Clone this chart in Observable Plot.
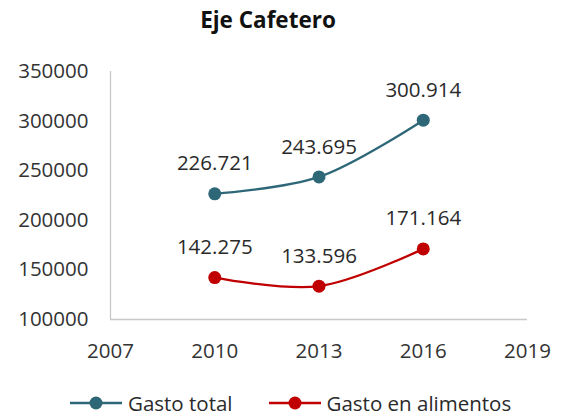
<!DOCTYPE html>
<html>
<head>
<meta charset="utf-8">
<script src="https://cdn.jsdelivr.net/npm/d3@7"></script>
<script src="https://cdn.jsdelivr.net/npm/@observablehq/plot@0.6"></script>
<style>
  html, body { margin: 0; padding: 0; background: #fff; }
  body { width: 564px; height: 417px; position: relative; overflow: hidden; font-family: "Open Sans", sans-serif; }
  #title { position: absolute; left: 0; top: 0; width: 536px; height: 40px; line-height: 40px; text-align: center; font-weight: bold; font-size: 22.5px; color: #111; }
  #chart { position: absolute; left: 0; top: 50px; }
  #legend { position: absolute; left: 70px; top: 391px; height: 24px; display: flex; align-items: center; font-size: 20.5px; color: #2a2a2a; }
  .item { display: flex; align-items: center; margin-right: 36px; }
  .item svg { margin-right: 6px; }
</style>
</head>
<body>
<div id="title">Eje Cafetero</div>
<div id="chart"></div>
<div id="legend"></div>
<script>
const years = [2010, 2013, 2016];
const gastoTotal = [226721, 243695, 300914];
const gastoAlimentos = [142275, 133596, 171164];
const seriesNames = ["Gasto total", "Gasto en alimentos"];
const seriesColors = ["#2E6878", "#C00000"];
const xTicks = [2007, 2010, 2013, 2016, 2019];
const yTicks = [100000, 150000, 200000, 250000, 300000, 350000];

const data = [];
[gastoTotal, gastoAlimentos].forEach((vals, s) => {
  vals.forEach((v, i) => data.push({ serie: seriesNames[s], year: years[i], value: v }));
});

const loc = d3.formatLocale({ decimal: ",", thousands: ".", grouping: [3], currency: ["$", ""] });
const fmt = loc.format(",d");

const color = { domain: seriesNames, range: seriesColors };

const chart = Plot.plot({
  width: 564,
  height: 325,
  marginLeft: 110,
  marginRight: 37,
  marginTop: 21,
  marginBottom: 56,
  style: { fontFamily: "Open Sans, sans-serif", fontSize: "20.5px", color: "#333", background: "transparent" },
  x: { domain: [2007, 2019], label: null },
  y: { domain: [100000, 350000], label: null },
  color,
  marks: [
    Plot.axisX({ ticks: xTicks, tickFormat: d => String(d), tickSize: 0, tickPadding: 24, fill: "#333", label: null }),
    Plot.axisY({ ticks: yTicks, tickFormat: d => String(d), tickSize: 0, tickPadding: 22, fill: "#333", label: null }),
    Plot.ruleX([2007], { stroke: "#c8c8c8", strokeWidth: 1.3 }),
    Plot.ruleY([100000], { stroke: "#c8c8c8", strokeWidth: 1.3 }),
    Plot.line(data, { x: "year", y: "value", z: "serie", stroke: "serie", strokeWidth: 2.3, curve: "catmull-rom" }),
    Plot.dot(data, { x: "year", y: "value", fill: "serie", r: 6.5 }),
    Plot.text(data, { x: "year", y: "value", text: d => fmt(d.value), dy: -30, fill: "#2a2a2a", fontSize: 20.5 })
  ]
});
document.getElementById("chart").appendChild(chart);

const legend = d3.select("#legend");
seriesNames.forEach((name, i) => {
  const item = legend.append("div").attr("class", "item");
  const svg = item.append("svg").attr("width", 52).attr("height", 14);
  svg.append("line").attr("x1", 0).attr("x2", 52).attr("y1", 7).attr("y2", 7)
    .attr("stroke", seriesColors[i]).attr("stroke-width", 2.3);
  svg.append("circle").attr("cx", 26).attr("cy", 7).attr("r", 6.5).attr("fill", seriesColors[i]);
  item.append("span").text(name);
});
</script>
</body>
</html>
